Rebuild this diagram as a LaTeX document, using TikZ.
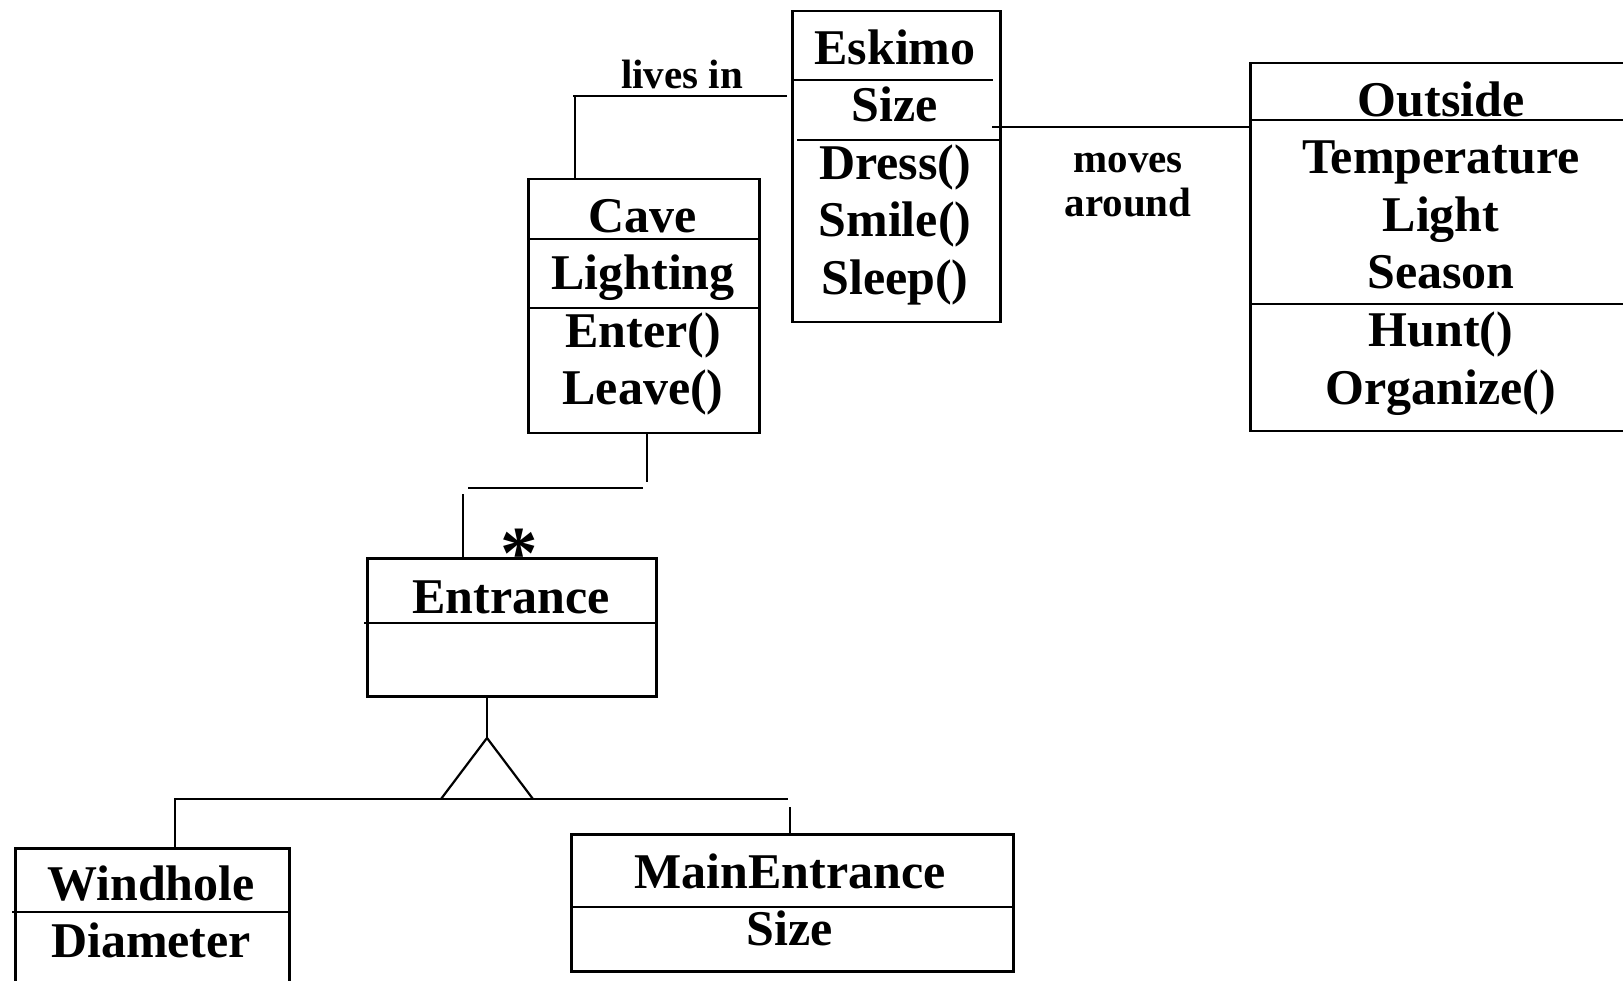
\documentclass[tikz,border=0pt]{standalone}
\usepackage{fontspec}
\setmainfont{Liberation Serif}
\begin{document}
\begin{tikzpicture}[x=1pt,y=-1pt,
  classbox/.style={draw, line width=2.5pt, inner sep=0pt, anchor=north west},
  sepline/.style={line width=2.3pt},
  conn/.style={line width=2.2pt},
  lbl/.style={font=\fontsize{50}{57}\selectfont\bfseries, anchor=base, inner sep=0pt},
  small/.style={font=\fontsize{41}{47}\selectfont\bfseries, anchor=base, inner sep=0pt}]
\useasboundingbox (0,0) rectangle (1623,981);
\clip (0,0) rectangle (1623,981);
\fill[white] (0,0) rectangle (1623,981);

% class boxes
\node[classbox, minimum width=208pt, minimum height=311pt] (eskimo) at (791,10) {};
\node[classbox, minimum width=231pt, minimum height=254pt] (cave) at (527,178) {};
\node[classbox, minimum width=384pt, minimum height=368pt] (outside) at (1249,62) {};
\node[classbox, minimum width=289pt, minimum height=138pt] (entrance) at (366,557) {};
\node[classbox, minimum width=274pt, minimum height=160pt] (windhole) at (14,847) {};
\node[classbox, minimum width=442pt, minimum height=137pt] (mainent) at (570,833) {};

% compartment lines
\draw[sepline] (791,80) -- (993,80);
\draw[sepline] (797,140) -- (999,140);
\draw[sepline] (527,239) -- (758,239);
\draw[sepline] (527,308) -- (758,308);
\draw[sepline] (1249,120) -- (1633,120);
\draw[sepline] (1252,304) -- (1633,304);
\draw[sepline] (364,623) -- (655,623);
\draw[sepline] (12,912) -- (288,912);
\draw[sepline] (570,907) -- (1012,907);

% texts
\node[lbl] (t-eskimo) at (895,65) {Eskimo};
\node[lbl] (t-esize) at (895,122) {Size};
\node[lbl] (t-dress) at (895,180) {Dress()};
\node[lbl] (t-smile) at (895,237) {Smile()};
\node[lbl] (t-sleep) at (895,295) {Sleep()};

\node[lbl] (t-cave) at (643,233) {Cave};
\node[lbl] (t-lighting) at (643,290) {Lighting};
\node[lbl] (t-enter) at (643,348) {Enter()};
\node[lbl] (t-leave) at (643,405) {Leave()};

\node[lbl] (t-outside) at (1441,117) {Outside};
\node[lbl] (t-temp) at (1441,174) {Temperature};
\node[lbl] (t-light) at (1441,232) {Light};
\node[lbl] (t-season) at (1441,289) {Season};
\node[lbl] (t-hunt) at (1441,347) {Hunt()};
\node[lbl] (t-organize) at (1441,405) {Organize()};

\node[lbl] (t-entrance) at (511,613) {Entrance};
\node[lbl] (t-windhole) at (151,900) {Windhole};
\node[lbl] (t-diameter) at (151,957) {Diameter};
\node[lbl] (t-mainent) at (790,888) {MainEntrance};
\node[lbl] (t-msize) at (790,945) {Size};

\node[small] (t-livesin) at (682,89) {lives in};
\node[small] (t-moves) at (1128,173) {moves};
\node[small] (t-around) at (1128,217) {around};

\node[font=\fontsize{75}{80}\selectfont\bfseries, anchor=base, inner sep=0pt] (star) at (519,578) {*};

% lives in
\coordinate (li) at (575,96);
\draw[conn] (li -| eskimo.west) ++(-4,0) -- (573,96) -- (li) -- (li |- cave.north);

% moves around
\coordinate (ma) at (992,127);
\draw[conn] (ma) -- (ma -| outside.west);

% cave - entrance
\coordinate (c1) at (647,482);
\coordinate (c2a) at (643,488);
\coordinate (c2b) at (468,488);
\coordinate (c3) at (463,494);
\draw[conn] (c1 |- cave.south) -- (c1);
\draw[conn] (c2a) -- (c2b);
\draw[conn] (c3) -- (c3 |- entrance.north);

% generalization
\coordinate (apex) at (487,738);
\coordinate (bl) at (441,799);
\coordinate (br) at (533,799);
\coordinate (hl) at (175,799);
\coordinate (hr) at (788,799);
\coordinate (me) at (790,807);
\draw[conn] (apex |- entrance.south) -- (apex);
\draw[conn, line join=miter] (bl) -- (apex) -- (br);
\draw[conn] (hl |- windhole.north) -- (hl) -- (hr);
\draw[conn] (me) -- (me |- mainent.north);
\end{tikzpicture}
\end{document}
